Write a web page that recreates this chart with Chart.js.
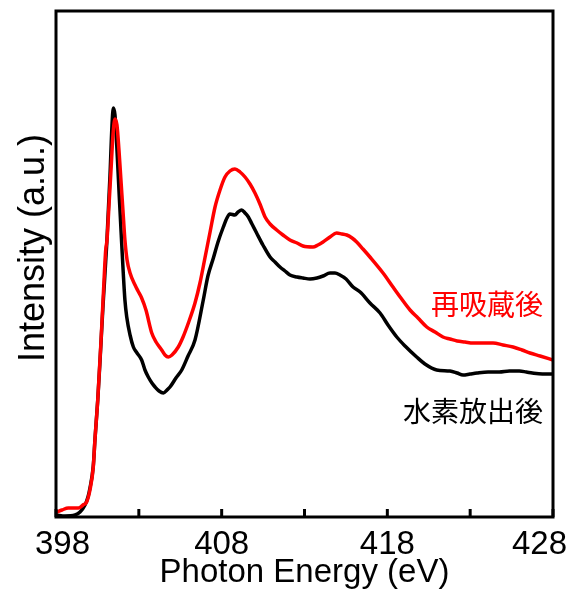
<!DOCTYPE html>
<html>
<head>
<meta charset="utf-8">
<script src="https://cdn.jsdelivr.net/npm/chart.js@4/dist/chart.umd.min.js"></script>
<style>
  body { margin: 0; background: #fff; }
  canvas { display: block; }
</style>
</head>
<body>
<canvas id="xanes" width="575" height="590"></canvas>
<script>
// 水素放出後 (black)
const energyBlack = [398.04, 398.54, 399.15, 399.45, 399.75, 399.93, 400.05, 400.25, 400.35, 400.52,
  400.66, 400.84, 401.06, 401.26, 401.38, 401.46, 401.56, 401.68, 401.83, 401.97,
  402.06, 402.16, 402.27, 402.47, 402.67, 402.89, 403.17, 403.37, 403.57, 403.79,
  403.98, 404.22, 404.48, 404.70, 404.88, 405.24, 405.59, 405.97, 406.39, 406.89,
  407.17, 407.50, 407.78, 408.10, 408.32, 408.50, 408.80, 408.99, 409.21, 409.41,
  409.61, 409.83, 410.11, 410.49, 410.92, 411.22, 411.52, 411.82, 412.12, 412.55,
  412.91, 413.33, 413.75, 414.12, 414.54, 414.84, 415.14, 415.51, 415.93, 416.36,
  416.95, 417.56, 418.04, 418.57, 419.07, 419.77, 420.27, 420.98, 421.78, 422.21,
  422.57, 422.99, 423.41, 424.08, 424.76, 425.37, 425.97, 426.39, 426.75, 427.36, 428.00];
const intensityBlack = [0.02, 0.01, 0.02, 0.05, 0.12, 0.20, 0.29, 0.51, 0.77, 1.17,
  1.57, 2.12, 2.72, 3.42, 3.92, 4.09, 4.02, 3.67, 3.17, 2.72,
  2.44, 2.17, 2.00, 1.82, 1.70, 1.64, 1.57, 1.47, 1.40, 1.34,
  1.30, 1.26, 1.24, 1.27, 1.30, 1.39, 1.47, 1.61, 1.77, 2.17,
  2.41, 2.59, 2.75, 2.90, 2.99, 3.03, 3.02, 3.05, 3.07, 3.04,
  3.00, 2.93, 2.84, 2.72, 2.60, 2.55, 2.50, 2.46, 2.42, 2.40,
  2.39, 2.38, 2.39, 2.41, 2.44, 2.44, 2.42, 2.38, 2.30, 2.25,
  2.14, 2.04, 1.92, 1.80, 1.71, 1.60, 1.53, 1.47, 1.46, 1.44,
  1.42, 1.43, 1.44, 1.45, 1.45, 1.46, 1.46, 1.45, 1.44, 1.43, 1.43];

// 再吸蔵後 (red)
const energyRed = [398.04, 398.36, 398.74, 399.35, 399.63, 399.85, 400.05, 400.25, 400.35, 400.52,
  400.72, 400.90, 401.00, 401.08, 401.20, 401.32, 401.44, 401.56, 401.68, 401.80,
  401.92, 402.04, 402.16, 402.29, 402.47, 402.77, 402.95, 403.17, 403.43, 403.78,
  404.04, 404.38, 404.58, 404.78, 405.00, 405.38, 405.67, 405.99, 406.39, 406.69,
  406.99, 407.30, 407.60, 407.90, 408.20, 408.50, 408.80, 409.11, 409.41, 409.71,
  410.01, 410.31, 410.62, 410.92, 411.32, 411.70, 412.12, 412.55, 412.91, 413.51,
  413.81, 414.12, 414.54, 414.94, 415.26, 415.55, 415.87, 416.15, 416.53, 416.95,
  417.74, 418.34, 418.82, 419.37, 419.85, 420.38, 420.88, 421.36, 421.78, 422.21,
  422.69, 423.17, 423.77, 424.38, 424.98, 425.59, 426.13, 426.61, 427.22, 428.00];
const intensityRed = [0.05, 0.07, 0.09, 0.09, 0.12, 0.15, 0.27, 0.50, 0.77, 1.17,
  1.77, 2.37, 2.67, 2.77, 3.12, 3.47, 3.82, 3.98, 3.92, 3.67,
  3.37, 3.07, 2.77, 2.57, 2.44, 2.32, 2.26, 2.19, 2.07, 1.84,
  1.75, 1.67, 1.62, 1.60, 1.62, 1.70, 1.80, 1.94, 2.14, 2.34,
  2.59, 2.85, 3.10, 3.27, 3.40, 3.46, 3.48, 3.45, 3.40, 3.33,
  3.24, 3.13, 3.00, 2.93, 2.87, 2.82, 2.77, 2.74, 2.71, 2.70,
  2.72, 2.75, 2.80, 2.84, 2.83, 2.82, 2.79, 2.75, 2.68, 2.60,
  2.44, 2.30, 2.19, 2.07, 1.99, 1.90, 1.85, 1.80, 1.78, 1.76,
  1.75, 1.74, 1.74, 1.74, 1.72, 1.70, 1.67, 1.64, 1.61, 1.57];

const xTickValues = [398, 403, 408, 413, 418, 423, 428];
const xTickLabels = ['398', '', '408', '', '418', '', '428'];

// series labels, placed in data coordinates (right edge x, centre y)
const seriesNotes = [
  { text: '再吸蔵後', color: '#ff0000', x: 427.4, y: 2.13 },
  { text: '水素放出後', color: '#000000', x: 427.4, y: 1.06 }
];

const toPoints = (xs, ys) => xs.map((x, i) => ({ x: x, y: ys[i] }));

// frame, inward ticks, tick labels, y title and the two notes
const framePlugin = {
  id: 'frame',
  afterDraw(chart) {
    const { ctx, chartArea, scales } = chart;
    const xs = scales.x, ys = scales.y;
    ctx.save();
    ctx.strokeStyle = '#000';
    ctx.lineWidth = 3;
    ctx.strokeRect(chartArea.left, chartArea.top,
      chartArea.right - chartArea.left, chartArea.bottom - chartArea.top);

    ctx.font = '33px "Liberation Sans", Arial, sans-serif';
    ctx.fillStyle = '#000';
    ctx.textAlign = 'center';
    ctx.textBaseline = 'alphabetic';
    xTickValues.forEach((v, i) => {
      const px = xs.getPixelForValue(v);
      ctx.beginPath();
      ctx.moveTo(px, chartArea.bottom);
      ctx.lineTo(px, chartArea.bottom - 8);
      ctx.stroke();
      const lbl = xTickLabels[i];
      if (lbl) {
        const w = ctx.measureText(lbl).width;
        const cx = Math.min(Math.max(px, 35 + w / 2), chart.width - 8 - w / 2);
        ctx.fillText(lbl, cx, 554);
      }
    });

    // y axis title
    ctx.save();
    ctx.translate(44, 248);
    ctx.rotate(-Math.PI / 2);
    ctx.font = '36px "Liberation Sans", Arial, sans-serif';
    ctx.textAlign = 'center';
    ctx.fillText('Intensity (a.u.)', 0, 0);
    ctx.restore();

    ctx.font = '28px "Noto Sans CJK JP", sans-serif';
    ctx.textAlign = 'right';
    ctx.textBaseline = 'middle';
    seriesNotes.forEach(n => {
      ctx.fillStyle = n.color;
      ctx.fillText(n.text, xs.getPixelForValue(n.x), ys.getPixelForValue(n.y));
    });
    ctx.restore();
  }
};

const ctx = document.getElementById('xanes').getContext('2d');
const xanesChart = new Chart(ctx, {
  type: 'line',
  data: {
    datasets: [{
      label: '再吸蔵後',
      data: toPoints(energyRed, intensityRed),
      borderColor: '#ff0000',
      borderWidth: 3.5,
      pointRadius: 0,
      fill: false,
      cubicInterpolationMode: 'monotone'
    }, {
      label: '水素放出後',
      data: toPoints(energyBlack, intensityBlack),
      borderColor: '#000000',
      borderWidth: 3.5,
      pointRadius: 0,
      fill: false,
      cubicInterpolationMode: 'monotone'
    }]
  },
  options: {
    responsive: false,
    animation: false,
    devicePixelRatio: 1,
    layout: { padding: { top: 11, right: 22, left: 0, bottom: 0 } },
    plugins: {
      legend: { display: false },
      tooltip: { enabled: false }
    },
    scales: {
      x: {
        type: 'linear',
        min: 398,
        max: 428,
        grid: { display: false },
        border: { display: false },
        ticks: { display: false },
        title: {
          display: true,
          text: 'Photon Energy (eV)',
          color: '#000',
          font: { family: '"Liberation Sans", Arial, sans-serif', size: 33, lineHeight: 1 },
          padding: { top: 0, bottom: 1 }
        },
        afterFit: (scale) => { scale.height = 73; }
      },
      y: {
        min: 0,
        max: 5.06,
        grid: { display: false },
        border: { display: false },
        ticks: { display: false },
        afterFit: (scale) => { scale.width = 56; }
      }
    }
  },
  plugins: [framePlugin]
});
</script>
</body>
</html>
